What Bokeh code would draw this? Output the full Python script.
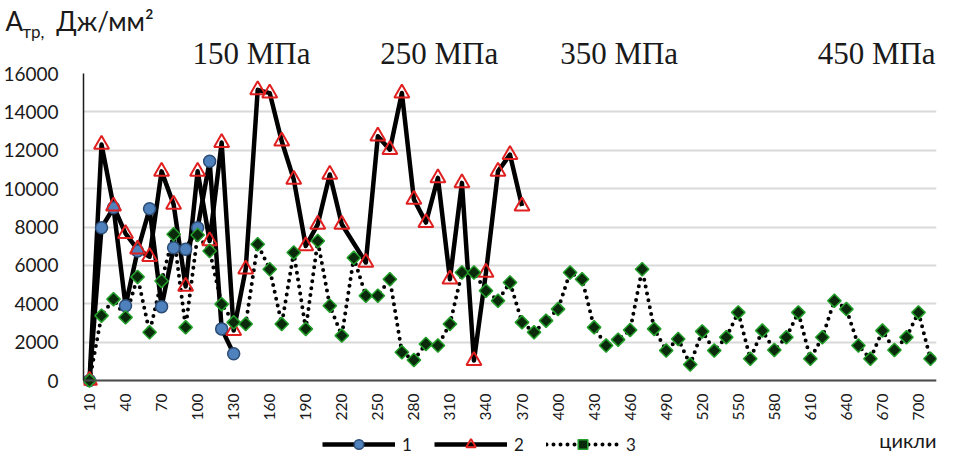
import math
from bokeh.plotting import figure
from bokeh.models import Range1d, FixedTicker, Legend, LegendItem, Title, Label
from bokeh.embed import file_html
from bokeh.resources import INLINE

# ---- data ----
s1_x = [10, 20, 30, 40, 50, 60, 70, 80, 90, 100, 110, 120, 130]
s1_y = [0, 7960, 9000, 3900, 6750, 8950, 3850, 6920, 6840, 7960, 11430, 2690, 1390]

s2_x = [10, 20, 30, 40, 50, 60, 70, 80, 90, 100, 110, 120, 130, 140, 150, 160,
        170, 180, 190, 200, 210, 220, 240, 250, 260, 270, 280, 290, 300, 310,
        320, 330, 340, 350, 360, 370]
s2_y = [0, 12300, 9090, 7650, 6840, 6450, 10900, 9180, 4900, 10900, 7270, 12400,
        2600, 5800, 15150, 14980, 12470, 10480, 7010, 8140, 10740, 8140, 6150,
        12730, 12030, 14980, 9440, 8230, 10560, 5280, 10300, 1040, 5630, 10900,
        11770, 9090]

s3_x = [10, 20, 30, 40, 50, 60, 70, 80, 90, 100, 110, 120, 130, 140, 150, 160,
        170, 180, 190, 200, 210, 220, 230, 240, 250, 260, 270, 280, 290, 300,
        310, 320, 330, 340, 350, 360, 370, 380, 390, 400, 410, 420, 430, 440,
        450, 460, 470, 480, 490, 500, 510, 520, 530, 540, 550, 560, 570, 580,
        590, 600, 610, 620, 630, 640, 650, 660, 670, 680, 690, 700, 710]
s3_y = [0, 3380, 4240, 3290, 5400, 2510, 5190, 7620, 2770, 7580, 6750, 3980,
        3030, 2940, 7100, 5800, 2940, 6670, 2690, 7270, 3900, 2340, 6400, 4420,
        4420, 5280, 1470, 1070, 1900, 1820, 2940, 5630, 5630, 4680, 4160, 5110,
        3030, 2510, 3120, 3720, 5630, 5280, 2770, 1820, 2130, 2630, 5800, 2690,
        1560, 2160, 830, 2560, 1560, 2250, 3550, 1130, 2600, 1590, 2250, 3550,
        1130, 2250, 4160, 3720, 1820, 1130, 2600, 1590, 2250, 3550, 1130]

x_tick_values = [10, 40, 70, 100, 130, 160, 190, 220, 250, 280, 310, 340, 370,
                 400, 430, 460, 490, 520, 550, 580, 610, 640, 670, 700]
y_tick_values = [0, 2000, 4000, 6000, 8000, 10000, 12000, 14000, 16000]

series_names = ["1", "2", "3"]
stress_labels = ["150 МПа", "250 МПа", "350 МПа", "450 МПа"]
stress_gaps = [9, 8, 18]          # non-breaking spaces between the labels
y_title_main = "А"
y_title_sub = "тр,"
y_title_unit = "Дж/мм²"
x_title = "цикли"

TXT = "#1a1a1a"
NB = "\u00a0"

# frame runs from the 16000 line down to the bottom of the figure; the value
# axis is bounded to 0..16000 and the category axis sits on the zero line
Y_TOP = 16000
Y_BOTTOM = -Y_TOP * 76 / 307

p = figure(width=944, height=456,
           x_range=Range1d(5, 715), y_range=Range1d(Y_BOTTOM, Y_TOP),
           output_backend="svg", toolbar_location=None,
           min_border_left=80, min_border_right=8,
           min_border_top=73, min_border_bottom=0,
           background_fill_color="white", border_fill_color="white")
p.outline_line_color = None

# axes
p.xaxis.fixed_location = 0
p.xaxis.ticker = FixedTicker(ticks=x_tick_values)
p.yaxis.ticker = FixedTicker(ticks=y_tick_values)
p.yaxis.bounds = (0, Y_TOP)
p.xaxis.major_label_orientation = math.pi / 2
p.xaxis.major_tick_line_color = None
p.xaxis.minor_tick_line_color = None
p.yaxis.major_tick_line_color = None
p.yaxis.minor_tick_line_color = None
p.xaxis.axis_line_color = "#4d4d4d"
p.xaxis.axis_line_width = 2
p.yaxis.axis_line_color = TXT
p.yaxis.axis_line_width = 1.5
p.xaxis.major_label_text_font = "Lato"
p.xaxis.major_label_text_font_size = "15.5px"
p.xaxis.major_label_text_color = TXT
p.xaxis.major_label_standoff = 7
p.yaxis.major_label_text_font = "Lato"
p.yaxis.major_label_text_font_size = "19px"
p.yaxis.major_label_text_color = TXT
p.yaxis.major_label_standoff = 19

p.xgrid.grid_line_color = None
p.ygrid.grid_line_color = "#d9d9d9"
p.ygrid.grid_line_width = 2

# series
l1 = p.line(s1_x, s1_y, line_color="black", line_width=4.5, line_join="round")
l2 = p.line(s2_x, s2_y, line_color="black", line_width=4.5, line_join="round")
l3 = p.line(s3_x, s3_y, line_color="black", line_width=4, line_dash="0 7",
            line_cap="round", line_join="round")

m1 = p.scatter(s1_x, s1_y, marker="circle", size=12, fill_color="#4f81bd",
               line_color="#2c4d75", line_width=1.5)
m2 = p.scatter(s2_x, s2_y, marker="triangle", size=15, fill_alpha=0,
               line_color="#e02020", line_width=2)
m3 = p.scatter(s3_x, s3_y, marker="square", angle=math.pi / 4, size=9.5,
               fill_color="#0b2a0b", line_color="#22a02a", line_width=1.5)

# ---- texts above the frame (stacked titles, nearest first) ----
stress_text = stress_labels[0]
for gap, lab in zip(stress_gaps, stress_labels[1:]):
    stress_text += NB * gap + lab
p.add_layout(Title(text=stress_text, align="left", offset=109, standoff=5,
                   text_font="Liberation Serif", text_font_size="31px",
                   text_font_style="normal", text_color=TXT), "above")
p.add_layout(Title(text=y_title_sub, align="left", offset=-61, standoff=-20,
                   text_font="Lato", text_font_size="17px",
                   text_font_style="normal", text_color=TXT), "above")
p.add_layout(Title(text=y_title_main + NB * 5 + y_title_unit, align="left",
                   offset=-78, standoff=-16, text_font="Lato",
                   text_font_size="26px", text_font_style="normal",
                   text_color=TXT), "above")

# ---- below the zero line (inside the frame) ----
legend = Legend(items=[LegendItem(label=series_names[0], renderers=[l1, m1]),
                       LegendItem(label=series_names[1], renderers=[l2, m2]),
                       LegendItem(label=series_names[2], renderers=[l3, m3])],
                location=(239, 0), orientation="horizontal",
                glyph_width=73, glyph_height=24, label_standoff=7, spacing=12,
                padding=0, margin=0, background_fill_alpha=0,
                border_line_alpha=0, label_text_font="Lato",
                label_text_font_size="17px", label_text_color=TXT)
p.add_layout(legend)
p.add_layout(Label(x=853, y=17, x_units="screen", y_units="screen",
                   text=x_title, text_align="right", text_baseline="alphabetic",
                   text_font="Lato", text_font_size="20px", text_color=TXT))

open("out.html", "w").write(file_html(p, INLINE))
